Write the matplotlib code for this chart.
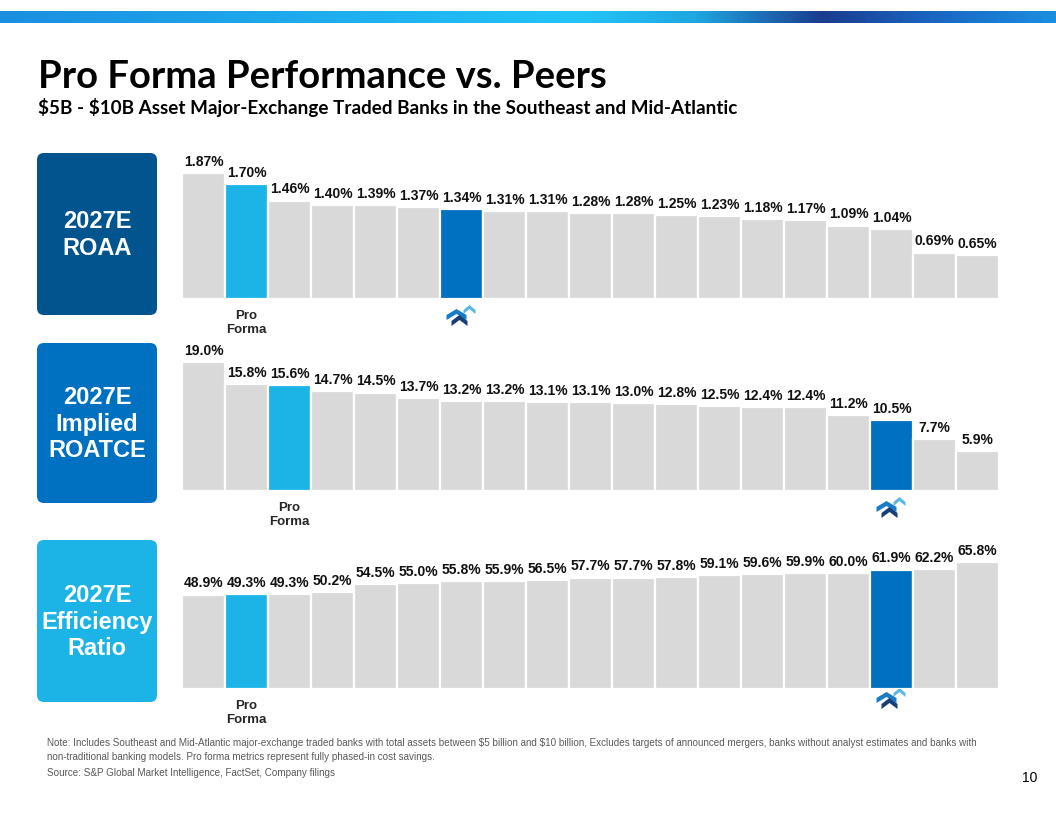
import numpy as np
import matplotlib
matplotlib.use("Agg")
import matplotlib.pyplot as plt
from matplotlib.colors import LinearSegmentedColormap
from matplotlib.patches import FancyBboxPatch, Polygon

# ---------------- data ----------------
roaa = [1.87, 1.70, 1.46, 1.40, 1.39, 1.37, 1.34, 1.31, 1.31, 1.28,
        1.28, 1.25, 1.23, 1.18, 1.17, 1.09, 1.04, 0.69, 0.65]
roatce = [19.0, 15.8, 15.6, 14.7, 14.5, 13.7, 13.2, 13.2, 13.1, 13.1,
          13.0, 12.8, 12.5, 12.4, 12.4, 11.2, 10.5, 7.7, 5.9]
efficiency = [48.9, 49.3, 49.3, 50.2, 54.5, 55.0, 55.8, 55.9, 56.5, 57.7,
              57.7, 57.8, 59.1, 59.6, 59.9, 60.0, 61.9, 62.2, 65.8]
roaa_labels = [f"{v:.2f}%" for v in roaa]
roatce_labels = [f"{v:.1f}%" for v in roatce]
efficiency_labels = [f"{v:.1f}%" for v in efficiency]
panel_titles = ["2027E\nROAA", "2027E\nImplied\nROATCE", "2027E\nEfficiency\nRatio"]
pro_forma_idx = [1, 2, 1]
company_idx = [6, 16, 16]

W, H = 1056, 816
fig = plt.figure(figsize=(W / 100, H / 100), dpi=100)
fig.patch.set_facecolor("white")

bg = fig.add_axes([0, 0, 1, 1], zorder=0)
bg.axis("off")

# top gradient bar
cmap = LinearSegmentedColormap.from_list(
    "band", [(0.0, "#1a8fe0"), (0.55, "#22c4f8"), (0.66, "#1fa6e0"),
             (0.78, "#1a3c8f"), (0.88, "#1a64c0"), (1.0, "#1a8ee0")])
grad = np.linspace(0, 1, 600).reshape(1, -1)
bg.imshow(grad, extent=(0, W, 23.5, 12), aspect="auto", cmap=cmap)
bg.set_xlim(0, W)
bg.set_ylim(H, 0)

# titles
bg.text(38, 88, "Pro Forma Performance vs. Peers", fontsize=27.5, weight="bold",
        family="Lato", color="black", ha="left", va="baseline", parse_math=False)
bg.text(38, 114, "$5B - $10B Asset Major-Exchange Traded Banks in the Southeast and Mid-Atlantic",
        fontsize=13.6, weight="bold", family="Lato", color="black", ha="left",
        va="baseline", parse_math=False)

# left boxes
box_colors = ["#02548f", "#0070c0", "#1cb3e6"]
box_y = [(153, 315), (343, 503), (540, 702)]
for (y0, y1), c, t in zip(box_y, box_colors, panel_titles):
    bg.add_patch(FancyBboxPatch((37, y0), 120, y1 - y0,
                                boxstyle="round,pad=0,rounding_size=7",
                                fc=c, ec="none"))
    bg.text(97, (y0 + y1) / 2 + 1, t, ha="center", va="center", color="white",
            fontsize=17, weight="bold", family="Liberation Sans", linespacing=1.2)

GRAY = "#d9d9d9"
PF = "#1cb3e6"
CO = "#0070c0"


def chevron(cx, cy, w, h, t, color):
    pts = [(cx - w, cy + h), (cx, cy), (cx + w, cy + h),
           (cx + w, cy + h + t), (cx, cy + t), (cx - w, cy + h + t)]
    bg.add_patch(Polygon(pts, closed=True, fc=color, ec="none"))


def logo(cx, cy):
    chevron(cx + 8, cy - 10, 6, 5, 4, "#5ab6e2")
    chevron(cx - 5, cy - 6, 10, 6, 5, "#1a7cc6")
    chevron(cx - 2, cy + 0, 8, 6, 5, "#163e7a")


panels = [
    (roaa, roaa_labels, 299, 173, 16),
    (roatce, roatce_labels, 491, 362, 16),
    (efficiency, efficiency_labels, 689, 562, 9),
]
for k, (vals, labels, base, top, logo_dy) in enumerate(panels):
    ax = fig.add_axes([182 / W, 1 - base / H, 817 / W, (base - top) / H], zorder=2)
    n = len(vals)
    x = np.arange(n)
    colors = [GRAY] * n
    colors[pro_forma_idx[k]] = PF
    colors[company_idx[k]] = CO
    ax.bar(x, vals, width=1.0, color=colors, edgecolor="white", linewidth=1.6)
    ax.set_xlim(-0.5, n - 0.5)
    ax.set_ylim(0, max(vals))
    ax.axis("off")
    for i, (v, lab) in enumerate(zip(vals, labels)):
        ax.annotate(lab, (i, v), xytext=(0, 3), textcoords="offset points",
                    ha="center", va="bottom", fontsize=10, weight="bold",
                    family="Liberation Sans", color="#111111", annotation_clip=False)
    ax.annotate("Pro\nForma", (pro_forma_idx[k], 0), xytext=(0, -8),
                textcoords="offset points", ha="center", va="top", fontsize=9.5,
                weight="bold", family="Liberation Sans", color="#262626",
                linespacing=1.25, annotation_clip=False)
    dx, dy = ax.transData.transform((company_idx[k], 0))
    logo(dx, base + logo_dy)

# footnotes
note_kw = dict(fontsize=7.15, family="Liberation Sans", color="#595959", ha="left",
               va="center", parse_math=False)
bg.text(47, 743, "Note: Includes Southeast and Mid-Atlantic major-exchange traded banks with total assets between $5 billion and $10 billion, Excludes targets of announced mergers, banks without analyst estimates and banks with", **note_kw)
bg.text(47, 757, "non-traditional banking models. Pro forma metrics represent fully phased-in cost savings.", **note_kw)
bg.text(47, 773, "Source: S&P Global Market Intelligence, FactSet, Company filings", **note_kw)
bg.text(1030, 778, "10", fontsize=10, family="Liberation Sans", color="black", ha="center", va="center")

fig.savefig("out.png", dpi=100, facecolor="white")
